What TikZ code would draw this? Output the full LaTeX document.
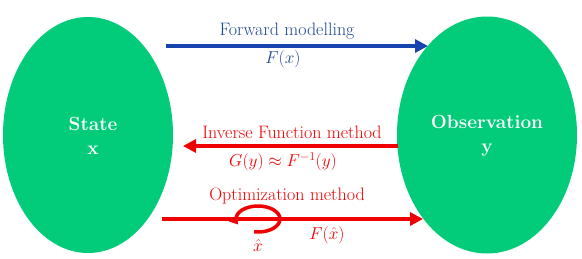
\documentclass[tikz,border=0pt]{standalone}
\usetikzlibrary{shapes.geometric,arrows.meta}
\definecolor{stgreen}{RGB}{2,204,122}
\definecolor{fwblue}{RGB}{24,68,176}
\definecolor{txblue}{RGB}{30,70,150}
\definecolor{invred}{RGB}{240,0,0}
\begin{document}
\begin{tikzpicture}[x=1pt,y=-1pt,
  blob/.style={ellipse,fill=stgreen,draw=none,inner sep=0pt},
  blobtext/.style={text=white,font=\fontsize{19}{23}\selectfont\bfseries,align=center},
  lbl/.style={font=\fontsize{18}{21}\selectfont,inner sep=0pt},
  conn/.style={line width=4pt,-{Triangle[length=13pt,width=13pt]}},
]
\useasboundingbox (0,0) rectangle (582,258);
\node[blob,minimum width=170pt,minimum height=236pt] (L) at (88,135) {};
\node[blob,minimum width=180pt,minimum height=237pt] (R) at (487,135) {};
\node[blobtext] (Lt) at (93,136) {State\\[1pt]x};
\node[blobtext] (Rt) at (487,136) {Observation\\[1pt]y};
% forward
\coordinate (f1) at (166,46);
\coordinate (f2) at (428,46);
\draw[conn,fwblue] (f1) -- (f2);
\node[lbl,text=txblue] (fl) at (287,31) {Forward modelling};
\node[lbl,text=txblue] (fm) at (283,59) {$F(x)$};
% inverse
\coordinate (i1) at (398,146);
\coordinate (i2) at (183,146);
\draw[conn,invred] (i1) -- (i2);
\node[lbl,text=invred] (il) at (292,132) {Inverse Function method};
\node[lbl,text=invred] (im) at (283,162) {$G(y)\approx F^{-1}(y)$};
% optimization
\coordinate (o1) at (162,219);
\coordinate (o2) at (423,219);
\draw[conn,invred] (o1) -- (o2);
\node[lbl,text=invred] (ol) at (287,196) {Optimization method};
\coordinate (oc) at (258,219);
\draw[invred,line width=3.5pt,-{Triangle[length=8pt,width=10pt]}]
  ([shift={(100:22 and 13)}]oc) arc[start angle=100,end angle=-205,x radius=22,y radius=13];
\node[lbl,text=invred,font=\fontsize{16}{18}\selectfont] (xh) at (258,245) {$\hat{x}$};
\node[lbl,text=invred] (fx) at (327,235) {$F(\hat{x})$};
\end{tikzpicture}
\end{document}
